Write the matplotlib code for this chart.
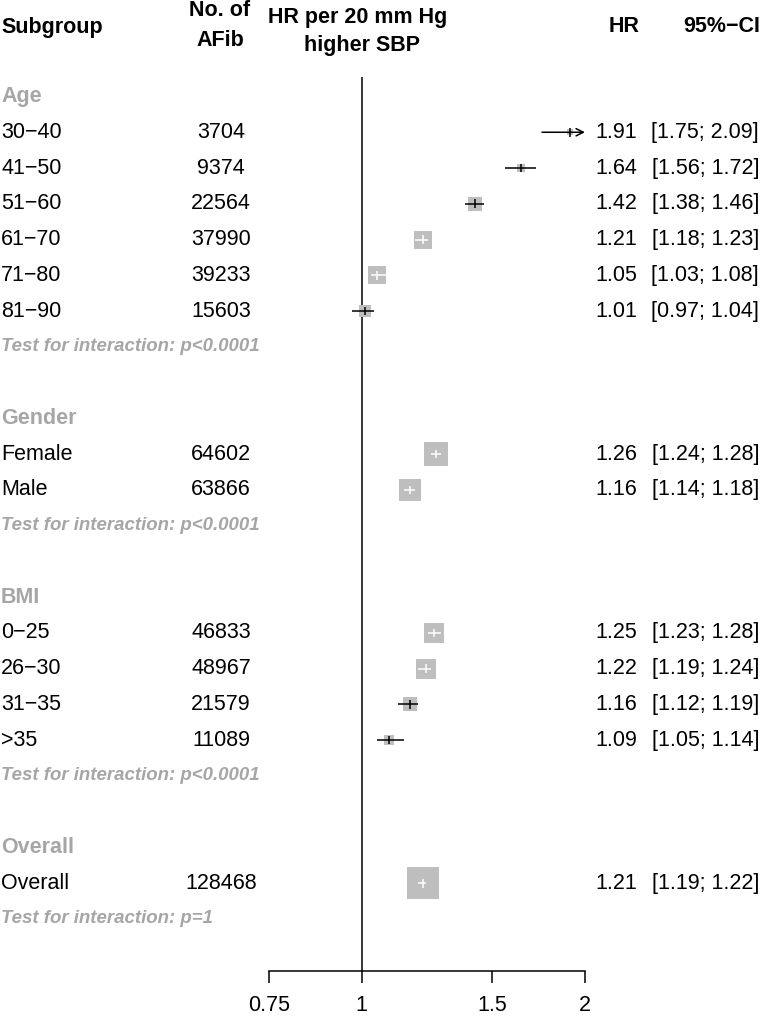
import numpy as np
import matplotlib.pyplot as plt
from matplotlib import transforms
from matplotlib.ticker import NullLocator

plt.rcParams['font.family'] = ['Liberation Sans', 'DejaVu Sans']

# subgroups, numbers of AFib cases and hazard ratios per 20 mm Hg higher SBP
groups = ["Age", "Gender", "BMI", "Overall"]
labels = [["30−40", "41−50", "51−60", "61−70", "71−80", "81−90"],
          ["Female", "Male"],
          ["0−25", "26−30", "31−35", ">35"],
          ["Overall"]]
n_afib = [[3704, 9374, 22564, 37990, 39233, 15603],
          [64602, 63866],
          [46833, 48967, 21579, 11089],
          [128468]]
hr = [[1.91, 1.64, 1.42, 1.21, 1.05, 1.01],
      [1.26, 1.16],
      [1.25, 1.22, 1.16, 1.09],
      [1.21]]
ci_low = [[1.75, 1.56, 1.38, 1.18, 1.03, 0.97],
          [1.24, 1.14],
          [1.23, 1.19, 1.12, 1.05],
          [1.19]]
ci_high = [[2.09, 1.72, 1.46, 1.23, 1.08, 1.04],
           [1.28, 1.18],
           [1.28, 1.24, 1.19, 1.14],
           [1.22]]
p_interaction = ["p<0.0001", "p<0.0001", "p<0.0001", "p=1"]
x_ticks = [0.75, 1, 1.5, 2]
x_ticklabels = ["0.75", "1", "1.5", "2"]

W, H = 760, 1019
GRAY_TXT = '#a6a6a6'
BOX = '#bebebe'
FS = 15.5

fig = plt.figure(figsize=(W / 100, H / 100), dpi=100)
ax = fig.add_axes([269 / W, 0, (585 - 269) / W, 1])
ax.patch.set_visible(False)
ax.set_xscale('log')
ax.set_xlim(0.75, 2)

# rows: 35.76 px apart, first row (Age) at 96.5 px from top
row0, row_h = 96.5, 35.76
ax.set_ylim((H - row0) / row_h, -row0 / row_h)
axis_row = (971 - row0) / row_h

for s in ['top', 'right', 'left']:
    ax.spines[s].set_visible(False)
ax.spines['bottom'].set_position(('data', axis_row))
ax.spines['bottom'].set_bounds(0.75, 2)
ax.spines['bottom'].set_linewidth(1.1)
ax.set_yticks([])
ax.set_xticks(x_ticks)
ax.set_xticklabels(x_ticklabels)
ax.xaxis.set_minor_locator(NullLocator())
ax.tick_params(axis='x', length=8.6, width=1.1, pad=9, labelsize=FS)

# reference line at HR = 1
ax.vlines(1, (77 - row0) / row_h, axis_row, color='black', lw=1.1)

trans = transforms.blended_transform_factory(fig.transFigure, ax.transData)

def px_x(v):
    return ax.transData.transform((v, 0))[0]

xmax = ax.get_xlim()[1]
row = 0
for g, grp in enumerate(groups):
    ax.text(1 / W, row, grp, transform=trans, ha='left', va='center',
            fontsize=FS, fontweight='bold', color=GRAY_TXT)
    row += 1
    for i, lab in enumerate(labels[g]):
        est, lo, hi, n = hr[g][i], ci_low[g][i], ci_high[g][i], n_afib[g][i]
        ax.text(1 / W, row, lab, transform=trans, ha='left', va='center', fontsize=FS)
        ax.text(221 / W, row, str(n), transform=trans, ha='center', va='center', fontsize=FS)
        ax.text(637 / W, row, f"{est:.2f}", transform=trans, ha='right', va='center', fontsize=FS)
        ax.text(759 / W, row, f"[{lo:.2f}; {hi:.2f}]", transform=trans, ha='right',
                va='center', fontsize=FS)

        side = 0.091 * np.sqrt(n)  # square side in px
        ax.scatter([est], [row], s=(side * 0.72) ** 2, marker='s', color=BOX,
                   linewidths=0, zorder=2)
        hi_c = min(hi, xmax)
        width_px = px_x(hi_c) - px_x(lo)
        col = 'white' if width_px < side else 'black'
        if hi > xmax:
            ax.annotate('', xy=(xmax, row), xytext=(lo, row), annotation_clip=False,
                        arrowprops=dict(arrowstyle='->', lw=1.1, color=col,
                                        shrinkA=0, shrinkB=0, mutation_scale=13))
        else:
            ax.plot([lo, hi], [row, row], color=col, lw=1.1, zorder=3,
                    solid_capstyle='butt')
        tick = 4.3 / row_h
        ax.plot([est, est], [row - tick, row + tick], color=col, lw=1.1, zorder=3,
                solid_capstyle='butt')
        row += 1
    ax.text(1 / W, row, "Test for interaction: " + p_interaction[g], transform=trans,
            ha='left', va='center', fontsize=13.4, fontweight='bold', fontstyle='italic',
            color=GRAY_TXT)
    row += 2

# column headers
hdr = dict(fontsize=FS, fontweight='bold', va='center')
fig.text(1 / W, 1 - 27 / H, "Subgroup", ha='left', **hdr)
fig.text(220 / W, 1 - 10 / H, "No. of", ha='center', **hdr)
fig.text(220 / W, 1 - 41 / H, "AFib", ha='center', **hdr)
fig.text(358 / W, 1 - 17 / H, "HR per 20 mm Hg", ha='center', **hdr)
fig.text(362 / W, 1 - 45 / H, "higher SBP", ha='center', **hdr)
fig.text(639 / W, 1 - 27 / H, "HR", ha='right', **hdr)
fig.text(760 / W, 1 - 27 / H, "95%−CI", ha='right', **hdr)

fig.savefig('out.png', dpi=100)
